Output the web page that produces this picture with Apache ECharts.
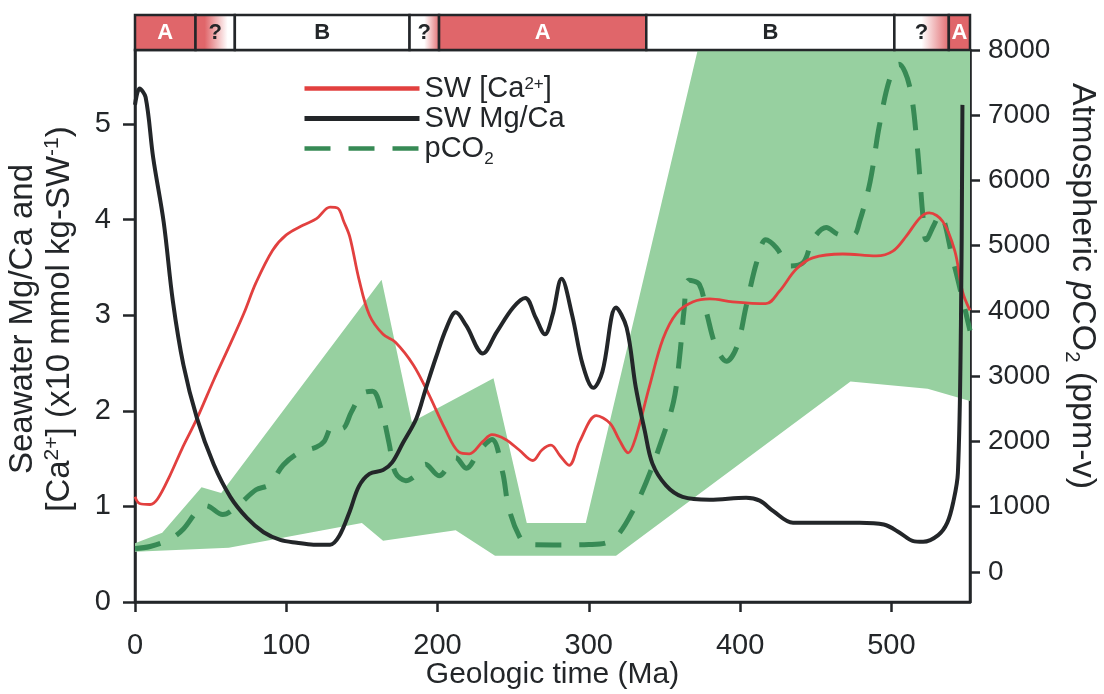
<!DOCTYPE html>
<html>
<head>
<meta charset="utf-8">
<script src="https://cdn.jsdelivr.net/npm/echarts@6/dist/echarts.min.js"></script>
<style>
  html, body { margin: 0; padding: 0; background: #fff; }
  #chart { width: 1104px; height: 694px; }
</style>
</head>
<body>
<div id="chart"></div>
<script>
// ticks
const xTicks = [0, 100, 200, 300, 400, 500];
const leftTicks = [0, 1, 2, 3, 4, 5];
const rightTicks = [0, 1000, 2000, 3000, 4000, 5000, 6000, 7000, 8000];

// calcite / aragonite sea intervals [start Ma, end Ma, label]
const seaStates = [
  [0, 40, 'A'], [40, 66, '?'], [66, 181.5, 'B'], [181.5, 201, '?'],
  [201, 338, 'A'], [338, 502, 'B'], [502, 538, '?'], [538, 552, 'A']
];

// SW [Ca2+] (x10 mmol/kg), left axis
const caData = [
  [0, 1.10], [3, 1.03], [10, 1.02], [15, 1.08], [23, 1.32], [31, 1.60], [41, 1.92],
  [52, 2.32], [63, 2.70], [72, 3.02], [80, 3.34], [91, 3.68], [100, 3.84], [111, 3.94],
  [120, 4.01], [129, 4.13], [134, 4.12], [138, 3.98], [142, 3.82], [148, 3.38], [155, 3.00],
  [164, 2.80], [172, 2.72], [184, 2.48], [194, 2.18], [205, 1.81], [214, 1.57], [221, 1.55],
  [230, 1.68], [236, 1.75], [245, 1.70], [254, 1.59], [263, 1.48], [269, 1.59], [275, 1.64],
  [281, 1.53], [287, 1.43], [294, 1.68], [305, 1.95], [314, 1.87], [320, 1.70], [326, 1.56],
  [331, 1.72], [340, 2.25], [349, 2.75], [358, 3.02], [369, 3.14], [380, 3.17], [395, 3.14],
  [417, 3.12], [426, 3.25], [437, 3.48], [448, 3.60], [468, 3.64], [490, 3.62], [501, 3.67],
  [510, 3.83], [519, 4.02], [525, 4.07], [534, 3.98], [542, 3.67], [547, 3.25], [552, 3.05]
];

// SW Mg/Ca (mol/mol), left axis
const mgcaData = [
  [0, 5.20], [3, 5.37], [7, 5.28], [12, 4.65], [19, 3.97], [25, 3.15], [32, 2.48], [41, 1.92],
  [52, 1.44], [63, 1.10], [74, 0.88], [85, 0.73], [96, 0.65], [107, 0.62], [118, 0.60],
  [129, 0.60], [135, 0.69], [142, 0.95], [148, 1.21], [155, 1.34], [164, 1.38], [170, 1.46],
  [177, 1.66], [186, 1.92], [192, 2.22], [199, 2.56], [206, 2.87], [212, 3.03], [219, 2.89],
  [230, 2.60], [239, 2.82], [250, 3.08], [258, 3.18], [265, 2.97], [271, 2.80], [276, 3.00],
  [282, 3.38], [289, 3.00], [296, 2.48], [303, 2.24], [309, 2.41], [318, 3.08], [325, 2.87],
  [331, 2.25], [337, 1.79], [342, 1.45], [351, 1.22], [362, 1.10], [380, 1.07], [404, 1.09],
  [413, 1.06], [422, 0.95], [435, 0.83], [457, 0.83], [479, 0.83], [495, 0.81], [506, 0.72],
  [514, 0.64], [521, 0.63], [531, 0.70], [537, 0.83], [541, 1.05], [544, 1.35], [546, 2.90],
  [547, 5.20]
];

// atmospheric pCO2 (ppm-v), right axis
const co2Data = [
  [0, 360], [10, 390], [23, 500], [32, 660], [41, 930], [47, 1015], [58, 880], [69, 1040],
  [80, 1260], [89, 1340], [98, 1640], [109, 1835], [120, 1915], [125, 2000], [131, 2250],
  [137, 2200], [143, 2450], [150, 2730], [157, 2770], [163, 2470], [168, 1970], [172, 1530],
  [179, 1400], [188, 1530], [192, 1650], [201, 1475], [212, 1750], [219, 1590], [228, 1870],
  [236, 2030], [243, 1530], [247, 990], [254, 550], [260, 420], [282, 415], [300, 420],
  [312, 450], [320, 590], [329, 930], [338, 1380], [347, 1940], [356, 2610], [360, 3290],
  [363, 4020], [366, 4470], [373, 4410], [378, 3960], [384, 3460], [391, 3230], [398, 3460],
  [404, 4070], [411, 4750], [417, 5090], [424, 4970], [433, 4690], [442, 4750], [448, 5090],
  [457, 5280], [466, 5170], [475, 5170], [479, 5370], [486, 5985], [492, 6830], [499, 7560],
  [505, 7780], [512, 7450], [517, 6550], [521, 5420], [523, 5090], [528, 5310], [532, 5480],
  [541, 4750], [547, 4190], [552, 3700]
];

// pCO2 uncertainty envelope (ppm-v)
const bandUpper = [
  [0, 440], [18, 600], [44, 1300], [57, 1210], [163, 4480], [183, 2300], [237, 2970],
  [259, 750], [298, 750], [372, 8000], [552, 8000]
];
const bandLower = [
  [0, 310], [62, 370], [150, 750], [164, 480], [212, 640], [238, 250], [318, 250],
  [473, 2920], [524, 2810], [552, 2620]
];

const FONT = "'Liberation Sans', Arial, sans-serif";
const INK = '#232629';
const RED = '#e2403f';
const SEA_RED = '#e0666a';
const GREEN = '#378a55';
const BAND = '#97d0a0';

const caName = 'SW [Ca2+]';
const mgName = 'SW Mg/Ca';
const co2Name = 'pCO2';

const chart = echarts.init(document.getElementById('chart'));

function seaFill(i) {
  const lab = seaStates[i][2];
  if (lab === 'A') return SEA_RED;
  if (lab === 'B') return '#ffffff';
  const prev = i > 0 ? seaStates[i - 1][2] : '';
  if (prev === 'A') {
    return new echarts.graphic.LinearGradient(0, 0, 1, 0, [
      { offset: 0, color: SEA_RED }, { offset: 0.25, color: SEA_RED }, { offset: 0.8, color: '#ffffff' }
    ]);
  }
  return new echarts.graphic.LinearGradient(0, 0, 1, 0, [
    { offset: 0, color: '#ffffff' }, { offset: 0.5, color: '#ffffff' }, { offset: 1, color: SEA_RED }
  ]);
}

const axisLineStyle = { color: INK, width: 2.5 };

const option = {
  animation: false,
  textStyle: { fontFamily: FONT },
  grid: [
    { left: 135, right: 134, top: 50, bottom: 92, show: true, borderColor: INK, borderWidth: 2.5, outerBoundsMode: 'none' },
    { left: 135, right: 134, top: 15, height: 35, outerBoundsMode: 'none' }
  ],
  legend: {
    left: 302,
    top: 74,
    orient: 'vertical',
    padding: 0,
    itemWidth: 115,
    itemHeight: 14,
    itemGap: 1,
    itemStyle: { opacity: 0 },
    data: [
      { name: caName, lineStyle: { width: 4.5 } },
      { name: mgName, lineStyle: { width: 5 } },
      { name: co2Name, lineStyle: { width: 4.5 } }
    ],
    formatter: function (name) {
      if (name === caName) return '{a|SW [Ca}{sup|2+}{a|]}';
      if (name === co2Name) return '{a|pCO}{sub|2}';
      return '{a|' + name + '}';
    },
    textStyle: {
      color: INK,
      fontSize: 29,
      rich: {
        a: { fontSize: 29, lineHeight: 38, color: INK },
        sup: { fontSize: 17, color: INK, verticalAlign: 'top', padding: [6, 0, 0, 0] },
        sub: { fontSize: 17, color: INK, verticalAlign: 'bottom' }
      }
    }
  },
  xAxis: [
    {
      gridIndex: 0,
      type: 'value',
      min: 0,
      max: 552,
      name: 'Geologic time (Ma)',
      nameLocation: 'middle',
      nameGap: 58,
      nameMoveOverlap: false,
      nameTextStyle: { fontSize: 30, color: INK },
      axisLine: { show: true, onZero: false, lineStyle: axisLineStyle },
      axisTick: { show: true, customValues: xTicks, length: 10, lineStyle: axisLineStyle },
      axisLabel: { customValues: xTicks, fontSize: 29, margin: 29, color: INK },
      splitLine: { show: false }
    },
    { gridIndex: 1, type: 'value', min: 0, max: 552, show: false }
  ],
  yAxis: [
    {
      gridIndex: 0,
      type: 'value',
      position: 'left',
      min: 0,
      max: 5.774,
      name: '{a|Seawater Mg/Ca and}\n{a|[Ca}{sup|2+}{a|] (x10 mmol kg-SW}{sup|-1}{a|)}',
      nameLocation: 'middle',
      nameGap: 57,
      nameTextStyle: {
        color: INK,
        fontSize: 33,
        padding: [0, 0, 0, 14],
        rich: {
          a: { fontSize: 33, lineHeight: 37, color: INK },
          sup: { fontSize: 21, color: INK, verticalAlign: 'top', padding: [1, 0, 0, 0] }
        }
      },
      axisLine: { show: true, onZero: false, lineStyle: axisLineStyle },
      axisTick: { show: true, customValues: leftTicks, length: 12, lineStyle: axisLineStyle },
      axisLabel: { customValues: leftTicks, fontSize: 29, margin: 24, color: INK },
      splitLine: { show: false }
    },
    {
      gridIndex: 0,
      type: 'value',
      position: 'right',
      min: -460,
      max: 8000,
      name: '{a|Atmospheric }{i|p}{a|CO}{sub|2}{a| (ppm-v)}',
      nameLocation: 'middle',
      nameRotate: -90,
      nameGap: 90,
      nameTextStyle: {
        color: INK,
        fontSize: 34,
        padding: [0, 80, 0, 0],
        rich: {
          a: { fontSize: 34, lineHeight: 42, color: INK },
          i: { fontSize: 34, lineHeight: 42, color: INK, fontStyle: 'italic' },
          sub: { fontSize: 20, color: INK, verticalAlign: 'bottom' }
        }
      },
      axisLine: { show: true, onZero: false, lineStyle: axisLineStyle },
      axisTick: { show: true, customValues: rightTicks, length: 10, lineStyle: axisLineStyle },
      axisLabel: {
        customValues: rightTicks, fontSize: 28, margin: 18, color: INK,
        formatter: function (v) { return String(v); }
      },
      splitLine: { show: false }
    },
    { gridIndex: 1, type: 'value', min: 0, max: 1, show: false }
  ],
  series: [
    {
      name: 'envelope',
      type: 'custom',
      xAxisIndex: 0,
      yAxisIndex: 1,
      z: 1,
      silent: true,
      data: [[0, 0]],
      renderItem: function (params, api) {
        const pts = bandUpper.map(p => api.coord(p))
          .concat(bandLower.slice().reverse().map(p => api.coord(p)));
        return { type: 'polygon', shape: { points: pts }, style: { fill: BAND } };
      }
    },
    {
      name: co2Name,
      type: 'line',
      xAxisIndex: 0,
      yAxisIndex: 1,
      z: 3,
      data: co2Data,
      smooth: 0.35,
      symbol: 'none',
      lineStyle: { color: GREEN, width: 5, type: [26, 18], cap: 'butt' },
      itemStyle: { color: GREEN }
    },
    {
      name: caName,
      type: 'line',
      xAxisIndex: 0,
      yAxisIndex: 0,
      z: 4,
      data: caData,
      smooth: 0.35,
      symbol: 'none',
      lineStyle: { color: RED, width: 2.8 },
      itemStyle: { color: RED }
    },
    {
      name: mgName,
      type: 'line',
      xAxisIndex: 0,
      yAxisIndex: 0,
      z: 5,
      data: mgcaData,
      smooth: 0.35,
      symbol: 'none',
      lineStyle: { color: INK, width: 4 },
      itemStyle: { color: INK }
    },
    {
      name: 'seas',
      type: 'custom',
      xAxisIndex: 1,
      yAxisIndex: 2,
      silent: true,
      data: seaStates.map(s => [s[0], s[1]]),
      encode: { x: [0, 1] },
      renderItem: function (params, api) {
        const i = params.dataIndex;
        const lab = seaStates[i][2];
        const p0 = api.coord([api.value(0), 1]);
        const p1 = api.coord([api.value(1), 0]);
        return {
          type: 'rect',
          shape: { x: p0[0], y: p0[1], width: p1[0] - p0[0], height: p1[1] - p0[1] },
          style: { fill: seaFill(i), stroke: INK, lineWidth: 2.5 },
          textContent: {
            style: {
              text: lab,
              fill: lab === 'A' ? '#ffffff' : INK,
              fontSize: 22,
              fontWeight: 'bold',
              fontFamily: FONT
            }
          },
          textConfig: { position: 'inside' }
        };
      }
    }
  ]
};

chart.setOption(option);
</script>
</body>
</html>
